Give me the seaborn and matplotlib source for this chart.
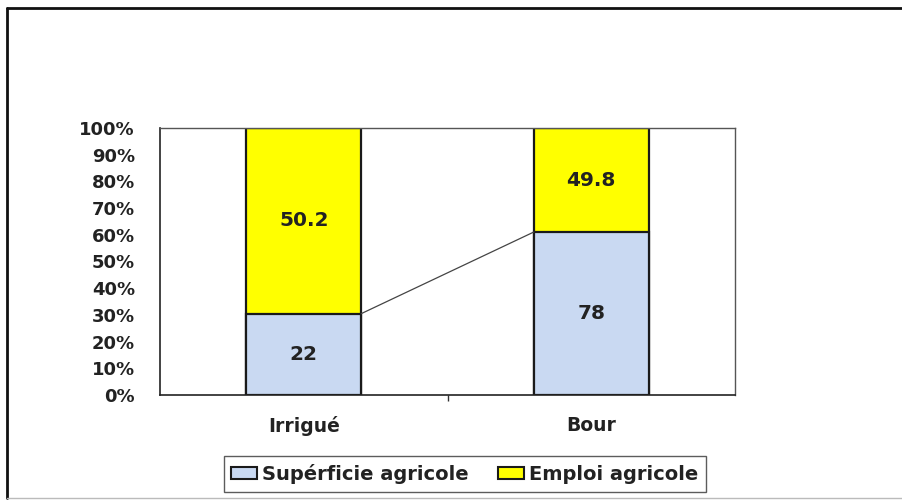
import matplotlib
matplotlib.use("Agg")
import matplotlib.pyplot as plt
from matplotlib.lines import Line2D
from matplotlib.patches import Patch
import seaborn as sns
import pandas as pd

categories = ["Irrigué", "Bour"]
superficie = [22, 78]
emploi = [50.2, 49.8]
series_names = ["Supérficie agricole", "Emploi agricole"]
y_ticks = [0, 10, 20, 30, 40, 50, 60, 70, 80, 90, 100]

blue = "#C9D9F2"
yellow = "#FFFF00"
ink = "#222222"

sns.set_theme(style="white")
plt.rcParams["font.family"] = ["DejaVu Sans"]

totals = [s + e for s, e in zip(superficie, emploi)]
df = pd.DataFrame({
    "cat": categories,
    "sup_pct": [s / t * 100 for s, t in zip(superficie, totals)],
    "total_pct": [100.0 for _ in totals],
})

fig = plt.figure(figsize=(9.03, 5.0), dpi=100)
ax = fig.add_axes([160 / 903, 1 - 395 / 500, 575 / 903, 267 / 500])

sns.barplot(data=df, x="cat", y="total_pct", color=yellow, width=0.4,
            edgecolor="#1a1a1a", linewidth=1.6, saturation=1, ax=ax)
sns.barplot(data=df, x="cat", y="sup_pct", color=blue, width=0.4,
            edgecolor="#1a1a1a", linewidth=1.6, saturation=1, ax=ax)

sup_bars = ax.patches[2:4]

# value labels inside each segment
label_font = {"size": 14.5, "weight": "bold"}
for bar, sv, ev in zip(sup_bars, superficie, emploi):
    cx = bar.get_x() + bar.get_width() / 2
    h = bar.get_height()
    ax.text(cx, h / 2, f"{sv:g}", ha="center", va="center", color=ink,
            fontdict=label_font)
    ax.text(cx, h + (100 - h) / 2, f"{ev:g}", ha="center", va="center",
            color=ink, fontdict=label_font)

# series line joining the superficie segments
b0, b1 = sup_bars
ax.add_line(Line2D([b0.get_x() + b0.get_width(), b1.get_x()],
                   [b0.get_height(), b1.get_height()],
                   color="#444444", linewidth=0.9, zorder=1))

ax.set_xlim(-0.5, 1.5)
ax.set_ylim(0, 100)
ax.set_yticks(y_ticks)
ax.set_yticklabels([f"{v}%" for v in y_ticks])
ax.set_xticks([0, 1])
ax.set_xticklabels(categories)
ax.set_xticks([0.5], minor=True)
ax.set_xlabel("")
ax.set_ylabel("")

ax.tick_params(axis="y", which="major", direction="out", length=4, width=1,
               color="#333333", pad=14, labelsize=13)
ax.tick_params(axis="x", which="major", length=0, pad=15, labelsize=13.5)
ax.tick_params(axis="x", which="minor", direction="out", length=4, width=1,
               color="#333333", bottom=True)
for lab in ax.get_yticklabels() + ax.get_xticklabels():
    lab.set_fontweight("bold")
    lab.set_color(ink)

for side in ["left", "bottom"]:
    ax.spines[side].set_color("#222222")
    ax.spines[side].set_linewidth(1.2)
for side in ["top", "right"]:
    ax.spines[side].set_color("#555555")
    ax.spines[side].set_linewidth(1.0)
ax.set_facecolor("white")

handles = [Patch(facecolor=blue, edgecolor="#1a1a1a", linewidth=1.5),
           Patch(facecolor=yellow, edgecolor="#1a1a1a", linewidth=1.5)]
leg = fig.legend(handles, series_names, loc="center",
                 bbox_to_anchor=(465 / 903, 1 - 474 / 500), ncol=2,
                 frameon=True, fancybox=False, edgecolor="#333333",
                 handlelength=1.3, handleheight=0.6, handletextpad=0.3,
                 columnspacing=1.5, borderpad=0.4,
                 prop={"size": 14, "weight": "bold"})
leg.get_frame().set_linewidth(1.0)
for t in leg.get_texts():
    t.set_color(ink)

# outer chart border
fig.add_artist(Line2D([7 / 903, 7 / 903], [1 - 8 / 500, 1 - 498 / 500],
                      transform=fig.transFigure, color="#111111", linewidth=2))
fig.add_artist(Line2D([7 / 903, 1.0], [1 - 8 / 500, 1 - 8 / 500],
                      transform=fig.transFigure, color="#111111", linewidth=2))
fig.add_artist(Line2D([7 / 903, 1.0], [1 - 498 / 500, 1 - 498 / 500],
                      transform=fig.transFigure, color="#bbbbbb", linewidth=1))

fig.savefig("out.png", dpi=100, facecolor="white")
